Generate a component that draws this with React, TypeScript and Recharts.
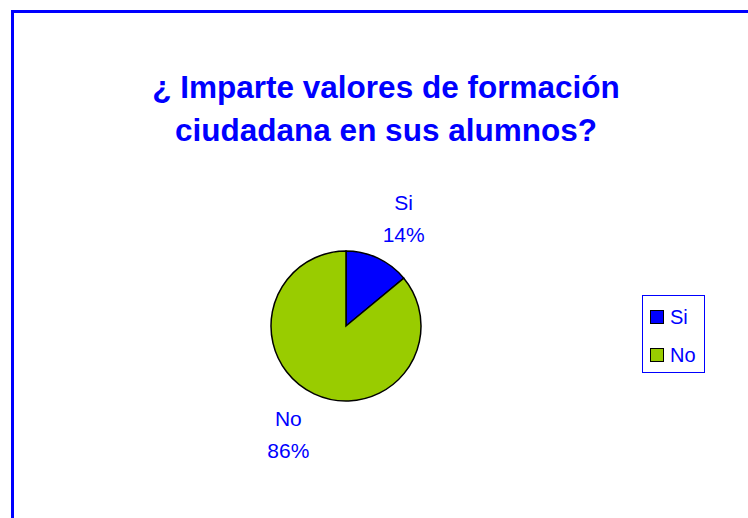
import { PieChart, Pie, Cell, Legend } from 'recharts'

const categories = ['Si', 'No']
const values = [14, 86]
const colors = ['#0000FF', '#99CC00']

const BLUE = '#0000FF'
const FONT = '"Liberation Sans", Arial, sans-serif'
const RADIAN = Math.PI / 180

const data = categories.map((name, i) => ({ name, value: values[i] }))

function renderLabel(props: any) {
  const { cx, cy, midAngle, outerRadius, percent, name } = props
  // Excel puts the labels a bit past the slice middle
  const angle = midAngle - 3
  const r = outerRadius + 47
  const x = cx + r * Math.cos(-angle * RADIAN)
  const y = cy + r * Math.sin(-angle * RADIAN)
  return (
    <text x={x} y={y} textAnchor="middle" fill={BLUE} fontSize={21} fontFamily={FONT}>
      <tspan x={x} y={y - 8}>{name}</tspan>
      <tspan x={x} y={y + 24}>{Math.round(percent * 100)}%</tspan>
    </text>
  )
}

function LegendBox({ payload }: any) {
  const items = [...(payload || [])].sort(
    (a: any, b: any) => categories.indexOf(a.value) - categories.indexOf(b.value)
  )
  return (
    <div
      style={{
        width: 63,
        height: 78,
        boxSizing: 'border-box',
        border: `1px solid ${BLUE}`,
        position: 'relative',
        background: '#fff',
      }}
    >
      {items.map((entry: any, i: number) => (
        <div key={entry.value} style={{ position: 'absolute', left: 7, top: 13 + i * 38, display: 'flex', alignItems: 'center' }}>
          <div
            style={{
              width: 14,
              height: 14,
              boxSizing: 'border-box',
              border: '1.5px solid #000',
              background: entry.color,
            }}
          />
          <span style={{ marginLeft: 6, fontSize: 20, fontFamily: FONT, color: BLUE, lineHeight: '16px' }}>
            {entry.value}
          </span>
        </div>
      ))}
    </div>
  )
}

export default function App() {
  return (
    <div style={{ position: 'absolute', left: 0, top: 0, width: 748, height: 518, overflow: 'hidden', background: '#fff' }}>
      {/* chart frame, runs off the right and bottom edges */}
      <div
        style={{
          position: 'absolute',
          left: 11,
          top: 10,
          width: 800,
          height: 600,
          border: `3px solid ${BLUE}`,
        }}
      />
      <div
        style={{
          position: 'absolute',
          left: 0,
          top: 66,
          width: 772,
          textAlign: 'center',
          fontFamily: FONT,
          fontWeight: 'bold',
          fontSize: 31.5,
          lineHeight: '43px',
          color: BLUE,
        }}
      >
        ¿ Imparte valores de formación
        <br />
        ciudadana en sus alumnos?
      </div>
      <div style={{ position: 'absolute', left: 0, top: 0 }}>
        <PieChart width={748} height={518} margin={{ top: 0, right: 0, bottom: 0, left: 0 }}>
          <Pie
            data={data}
            dataKey="value"
            nameKey="name"
            cx={346}
            cy={326}
            outerRadius={75}
            startAngle={90}
            endAngle={-270}
            stroke="#000"
            strokeWidth={1.5}
            label={renderLabel}
            labelLine={false}
            isAnimationActive={false}
          >
            {data.map((d, i) => (
              <Cell key={d.name} fill={colors[i]} />
            ))}
          </Pie>
          <Legend
            layout="vertical"
            content={<LegendBox />}
            wrapperStyle={{ left: 642, top: 295, width: 63, height: 78 }}
          />
        </PieChart>
      </div>
    </div>
  )
}
